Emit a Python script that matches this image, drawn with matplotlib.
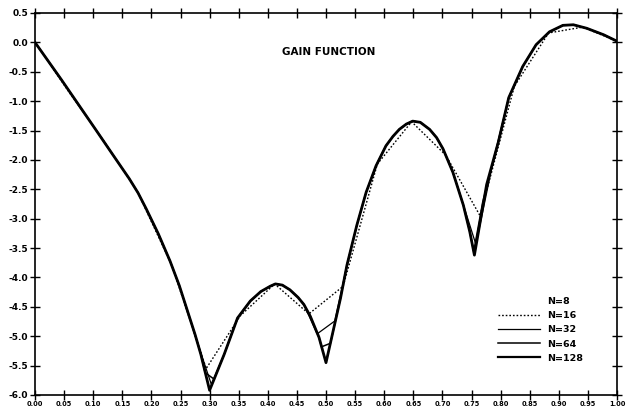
import matplotlib
matplotlib.use("Agg")
import matplotlib.pyplot as plt
from matplotlib.lines import Line2D

# ---- data ----
x_n128 = [0.0, 0.045, 0.104, 0.135, 0.162, 0.177, 0.191, 0.212, 0.232, 0.248, 0.262, 0.275,
          0.285, 0.300, 0.325, 0.348, 0.370, 0.388, 0.404, 0.413, 0.425, 0.438, 0.452, 0.462,
          0.473, 0.488, 0.500, 0.525, 0.536, 0.553, 0.569, 0.586, 0.603, 0.615, 0.626, 0.638,
          0.649, 0.662, 0.678, 0.690, 0.701, 0.718, 0.736, 0.747, 0.755,
          0.776, 0.796, 0.814, 0.838, 0.861, 0.884, 0.907, 0.925, 0.948, 0.977, 1.0]
y_n128 = [0.0, -0.63, -1.48, -1.93, -2.32, -2.56, -2.83, -3.26, -3.72, -4.14, -4.57, -4.97,
          -5.31, -5.92, -5.31, -4.69, -4.40, -4.24, -4.15, -4.11, -4.13, -4.21, -4.34, -4.46,
          -4.66, -5.02, -5.45, -4.35, -3.79, -3.11, -2.55, -2.10, -1.76, -1.60, -1.48, -1.39,
          -1.34, -1.36, -1.48, -1.62, -1.81, -2.21, -2.77, -3.22, -3.62,
          -2.42, -1.70, -0.94, -0.41, -0.04, 0.18, 0.29, 0.30, 0.24, 0.13, 0.02]

x_n64 = [0.0, 0.045, 0.104, 0.135, 0.162, 0.177, 0.191, 0.212, 0.232, 0.248, 0.262, 0.275,
         0.285, 0.2923, 0.3077, 0.325, 0.348, 0.370, 0.388, 0.404, 0.413, 0.425, 0.438, 0.452,
         0.462, 0.473, 0.488, 0.4923, 0.5077, 0.525, 0.536, 0.553, 0.569, 0.586, 0.603, 0.615,
         0.626, 0.638, 0.649, 0.662, 0.678, 0.690, 0.701, 0.718, 0.736, 0.747, 0.7538,
         0.7692, 0.796, 0.814, 0.838, 0.861, 0.884, 0.907, 0.925, 0.948, 0.977, 1.0]
y_n64 = [0.0, -0.63, -1.48, -1.93, -2.32, -2.56, -2.83, -3.26, -3.72, -4.14, -4.57, -4.97,
         -5.31, -5.62, -5.73, -5.31, -4.69, -4.40, -4.24, -4.15, -4.11, -4.13, -4.21, -4.34,
         -4.46, -4.66, -5.02, -5.18, -5.12, -4.35, -3.79, -3.11, -2.55, -2.10, -1.76, -1.60,
         -1.48, -1.39, -1.34, -1.36, -1.48, -1.62, -1.81, -2.21, -2.77, -3.22, -3.56,
         -2.72, -1.70, -0.94, -0.41, -0.04, 0.18, 0.29, 0.30, 0.24, 0.13, 0.02]

x_n32 = [0.0, 0.045, 0.104, 0.135, 0.162, 0.177, 0.191, 0.212, 0.232, 0.248, 0.262, 0.2727,
         0.3030, 0.325, 0.348, 0.370, 0.388, 0.404, 0.413, 0.425, 0.438, 0.452, 0.462, 0.4848,
         0.5152, 0.536, 0.553, 0.569, 0.586, 0.603, 0.615, 0.626, 0.638, 0.649, 0.662, 0.678,
         0.690, 0.701, 0.718, 0.7273, 0.7576,
         0.7879, 0.814, 0.838, 0.861, 0.884, 0.907, 0.925, 0.948, 0.977, 1.0]
y_n32 = [0.0, -0.63, -1.48, -1.93, -2.32, -2.56, -2.83, -3.26, -3.72, -4.14, -4.57, -4.92,
         -5.82, -5.31, -4.69, -4.40, -4.24, -4.15, -4.11, -4.13, -4.21, -4.34, -4.46, -4.96,
         -4.74, -3.79, -3.11, -2.55, -2.10, -1.76, -1.60, -1.48, -1.39, -1.34, -1.36, -1.48,
         -1.62, -1.81, -2.21, -2.49, -3.44,
         -1.99, -0.94, -0.41, -0.04, 0.18, 0.29, 0.30, 0.24, 0.13, 0.02]

x_n16 = [0.0, 0.0588, 0.1176, 0.1765, 0.2353, 0.2941, 0.3529, 0.4118, 0.4706, 0.5294,
         0.5882, 0.6471, 0.7059, 0.7647, 0.8235, 0.8824, 0.9412, 1.0]
y_n16 = [0.0, -0.85, -1.67, -2.55, -3.80, -5.55, -4.65, -4.11, -4.62, -4.15,
         -2.07, -1.35, -1.92, -2.95, -0.75, 0.16, 0.26, 0.02]

legend_labels = ["N=8", "N=16", "N=32", "N=64", "N=128"]
x_ticks = [i * 0.05 for i in range(21)]
x_ticklabels = ["%.2f" % v for v in x_ticks]
y_ticks = [0.5 - 0.5 * i for i in range(14)]
y_ticklabels = ["%.1f" % v for v in y_ticks]
title = "GAIN FUNCTION"

# ---- figure ----
W, H = 627, 409
fig = plt.figure(figsize=(W / 100, H / 100), dpi=100)
ax = fig.add_axes([35 / W, (H - 395) / H, (617 - 35) / W, (395 - 13) / H])

ax.plot(x_n16, y_n16, color="black", lw=1.0, linestyle=(0, (1.2, 1.4)))
ax.plot(x_n32, y_n32, color="black", lw=0.9)
ax.plot(x_n64, y_n64, color="black", lw=1.1)
ax.plot(x_n128, y_n128, color="black", lw=2.0)

ax.set_xlim(0, 1)
ax.set_ylim(-6.0, 0.5)
ax.set_xticks(x_ticks)
ax.set_xticklabels(x_ticklabels, fontsize=4.8, fontweight="bold")
ax.set_yticks(y_ticks)
ax.set_yticklabels(y_ticklabels, fontsize=6.5, fontweight="bold")
ax.tick_params(direction="inout", length=7, width=1.0, top=True, right=True,
               colors="black")
ax.tick_params(axis="x", pad=0.8)
ax.tick_params(axis="y", pad=1.5)
for s in ax.spines.values():
    s.set_linewidth(1.2)
    s.set_color("black")

ax.text((329 - 35) / 582, (395 - 52) / 382, title, transform=ax.transAxes,
        ha="center", va="center", fontsize=7.5, fontweight="bold")

handles = [
    Line2D([], [], linestyle="none"),
    Line2D([], [], color="black", lw=1.0, linestyle=(0, (1.2, 1.4))),
    Line2D([], [], color="black", lw=0.9),
    Line2D([], [], color="black", lw=1.1),
    Line2D([], [], color="black", lw=1.6),
]
leg = fig.legend(handles, legend_labels, loc="upper left",
                 bbox_to_anchor=(498 / W, 1 - 297 / H), frameon=False,
                 prop={"size": 6.8, "weight": "bold"}, handlelength=4.4,
                 handletextpad=0.8, labelspacing=0.55, borderpad=0, borderaxespad=0)

fig.savefig("out.png", dpi=100)
